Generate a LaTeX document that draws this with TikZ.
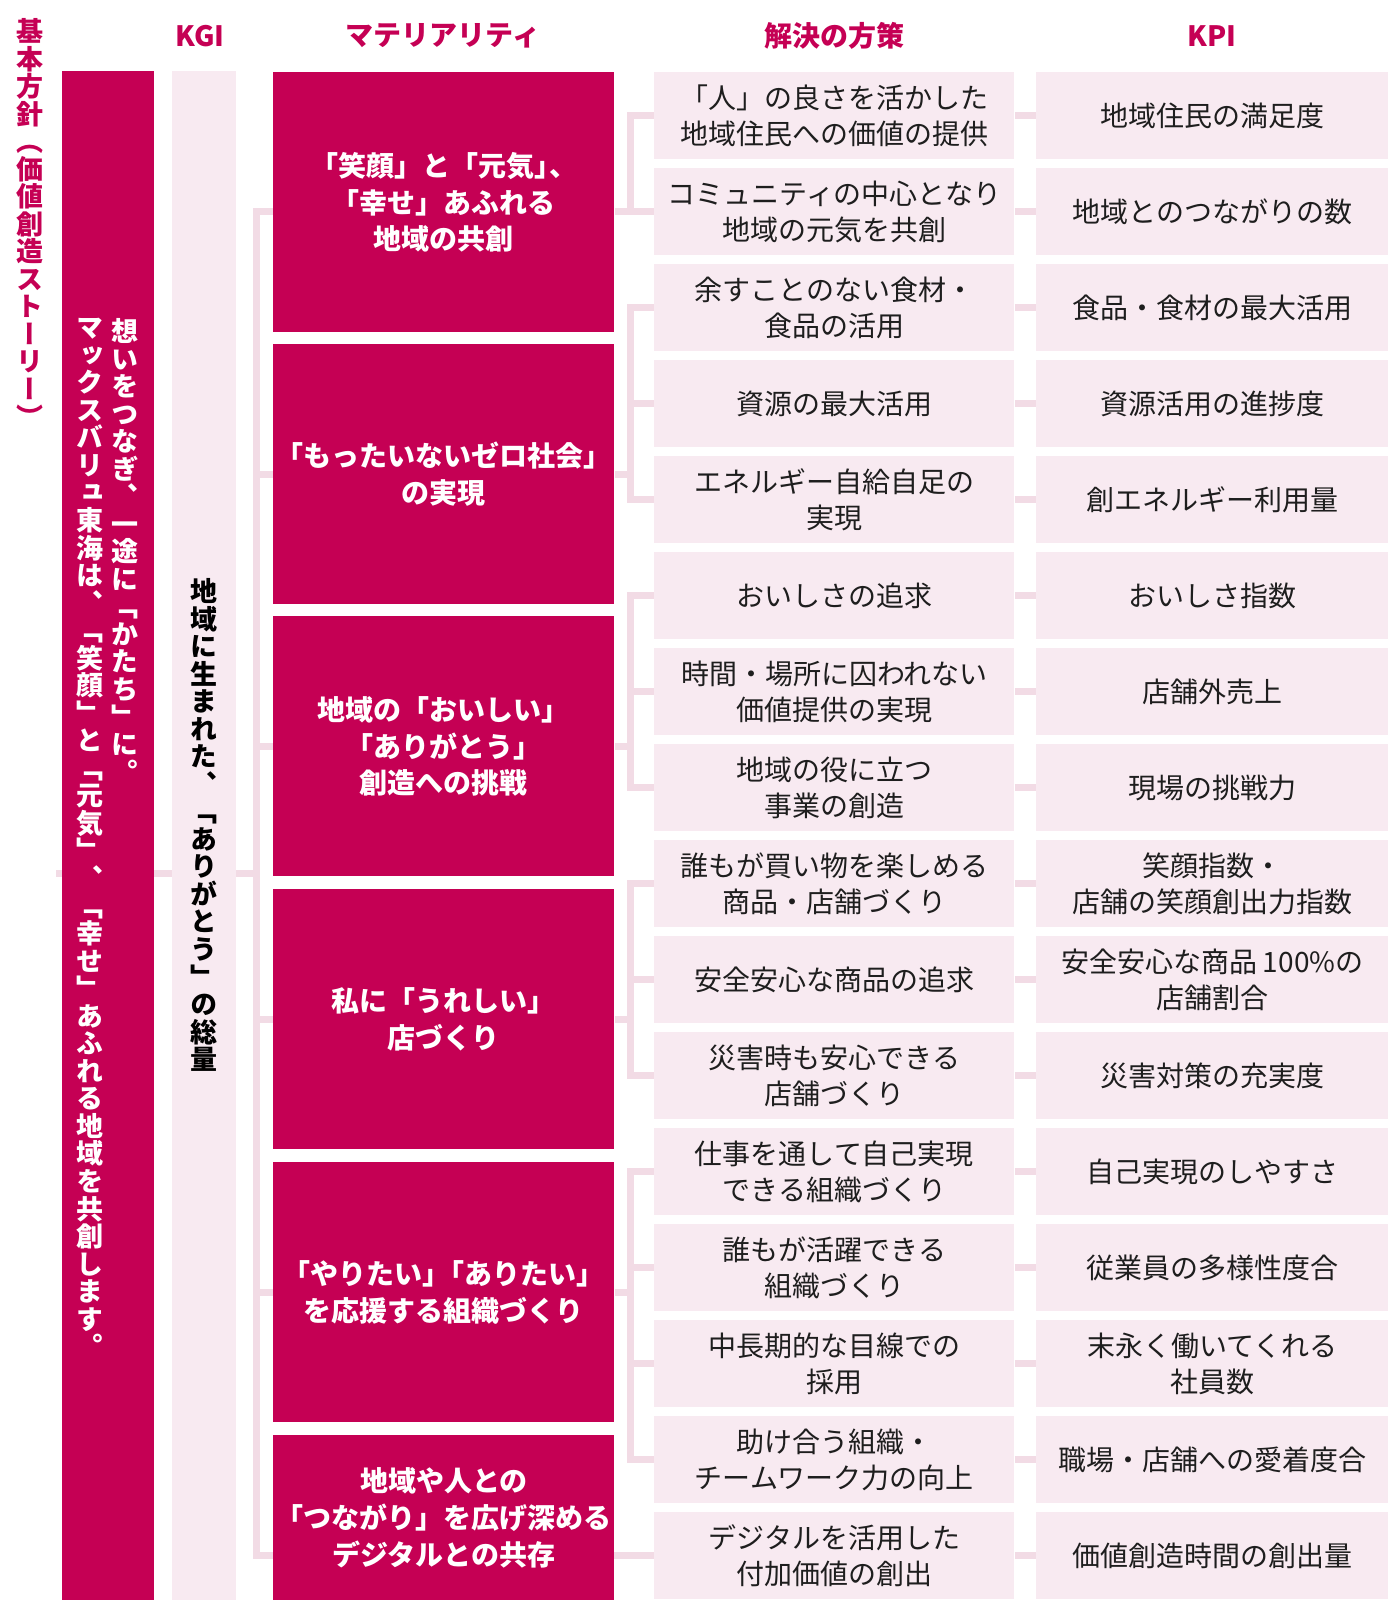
\documentclass[tikz,border=0pt]{standalone}
\usepackage{fontspec}
\setmainfont{Noto Sans CJK JP}
\newfontfamily\tatefont{Noto Sans CJK JP}[RawFeature=+vert]
\usetikzlibrary{backgrounds}
\definecolor{mag}{RGB}{197,0,84}
\definecolor{pale}{RGB}{248,234,241}
\definecolor{linkc}{RGB}{242,219,229}
\definecolor{ink}{RGB}{30,30,30}
\newcommand\tateend{\tateend}
\newcommand\tatestack[1]{\vbox{\baselineskip=1.02em\lineskiplimit=-\maxdimen\tateloop#1\tateend}}
\newcommand\tateloop[1]{\ifx#1\tateend\else\hbox to 1em{\hss#1\hss}\expandafter\tateloop\fi}

\begin{document}
\begin{tikzpicture}[x=0.5pt,y=-0.5pt,
  link/.style={draw=linkc,line width=3.5pt},
  head/.style={text=mag,font=\bfseries\fontsize{14}{16}\selectfont},
  tate/.style={anchor=north,inner sep=0pt,font=\tatefont\bfseries\fontsize{13.5}{13.5}\selectfont},
  bar/.style={anchor=north west,inner sep=0pt,minimum height=764.5pt},
  matbox/.style={anchor=north west,fill=mag,text=white,align=center,inner sep=0pt,
    minimum width=170.5pt,minimum height=130pt,font=\bfseries\fontsize{14}{18.3}\selectfont},
  solbox/.style={anchor=north west,fill=pale,text=ink,align=center,inner sep=0pt,
    minimum width=180pt,minimum height=43.5pt,font=\fontsize{14}{18}\selectfont},
  kpibox/.style={solbox,minimum width=176pt}]
\useasboundingbox (0,0) rectangle (1388,1600);

\node[head] (hkgi) at (200,36) {KGI};
\node[head] (hmat) at (443,36) {マテリアリティ};
\node[head] (hsol) at (834,36) {解決の方策};
\node[head] (hkpi) at (1212,36) {KPI};

\node[tate,text=mag] (title) at (30,18) {\tatestack{基本方針（価値創造ストーリー）}};

\node[bar,fill=mag,minimum width=46pt] (story) at (62,71) {};
\node[bar,fill=pale,minimum width=32pt] (kgi) at (172,71) {};
\node[tate,text=white] (storyA) at (125,318) {\tatestack{想いをつなぎ、一途に「かたち」に。}};
\node[tate,text=white] (storyB) at (90,318) {\tatestack{マックスバリュ東海は、「笑顔」と「元気」、「幸せ」あふれる地域を共創します。}};
\node[tate,text=black] (kgitext) at (204,578) {\tatestack{地域に生まれた、「ありがとう」の総量}};

\foreach \i/\t/\txt in {
  1/72/{「笑顔」と「元気」\kern-0.45em、\\「幸せ」あふれる\\地域の共創},
  2/344/{「もったいないゼロ社会」\\の実現},
  3/616/{地域の「おいしい」\\「ありがとう」\\創造への挑戦},
  4/889/{私に「うれしい」\\店づくり},
  5/1162/{「やりたい」\kern-0.5em「ありたい」\\を応援する組織づくり}}
  \node[matbox] (m\i) at (273,\t) {\txt};
\node[matbox,minimum height=82.5pt] (m6) at (273,1435) {地域や人との\\「つながり」を広げ深める\\デジタルとの共存};

\foreach \i/\s/\k in {
  1/{「人」の良さを活かした\\地域住民への価値の提供}/{地域住民の満足度},
  2/{コミュニティの中心となり\\地域の元気を共創}/{地域とのつながりの数},
  3/{余すことのない食材・\\食品の活用}/{食品・食材の最大活用},
  4/{資源の最大活用}/{資源活用の進捗度},
  5/{エネルギー自給自足の\\実現}/{創エネルギー利用量},
  6/{おいしさの追求}/{おいしさ指数},
  7/{時間・場所に囚われない\\価値提供の実現}/{店舗外売上},
  8/{地域の役に立つ\\事業の創造}/{現場の挑戦力},
  9/{誰もが買い物を楽しめる\\商品・店舗づくり}/{笑顔指数・\\店舗の笑顔創出力指数},
  10/{安全安心な商品の追求}/{安全安心な商品\hspace{0.2em}100\%の\\店舗割合},
  11/{災害時も安心できる\\店舗づくり}/{災害対策の充実度},
  12/{仕事を通して自己実現\\できる組織づくり}/{自己実現のしやすさ},
  13/{誰もが活躍できる\\組織づくり}/{従業員の多様性度合},
  14/{中長期的な目線での\\採用}/{末永く働いてくれる\\社員数},
  15/{助け合う組織・\\チームワーク力の向上}/{職場・店舗への愛着度合},
  16/{デジタルを活用した\\付加価値の創出}/{価値創造時間の創出量}} {
  \node[solbox] (s\i) at (654,{72+96*(\i-1)}) {\s};
  \node[kpibox] (k\i) at (1036,{72+96*(\i-1)}) {\k};
}

\coordinate (jL) at (256,0);
\coordinate (jR) at (630,0);
\coordinate (root) at (56,873);
\begin{scope}[on background layer]
\draw[link] (root) -- (jL |- root);
\draw[link] (m1.west |- s2) -| (jL |- s16) -- (s16.west);
\foreach \i in {2,...,5}
  \draw[link] (jL |- m\i) -- (m\i.west);
\foreach \m/\a/\b/\j in {1/1/2/s2,2/3/5/m2,3/6/8/m3,4/9/11/m4,5/12/15/m5} {
  \draw[link] (s\a.west) -| (jR |- s\b) -- (s\b.west);
  \draw[link] (m\m.east |- \j) -- (jR |- \j);
}
\foreach \i in {4,7,10,13,14}
  \draw[link] (jR |- s\i) -- (s\i.west);
\foreach \i in {1,...,16}
  \draw[link] (s\i.east) -- (k\i.west);
\end{scope}
\end{tikzpicture}
\end{document}
